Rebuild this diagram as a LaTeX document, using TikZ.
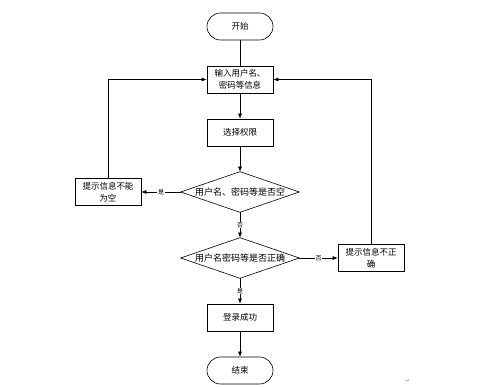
\documentclass[tikz,border=0pt]{standalone}
\usepackage{fontspec}
\setmainfont{Noto Sans CJK SC}
\newfontfamily\markfont{DejaVu Sans}
\usetikzlibrary{positioning,arrows.meta}

\begin{document}
\begin{tikzpicture}[
        node distance=25.4pt,
        >={Latex[length=5pt,width=4pt]},
        line width=0.6pt,
        proc/.style={
            draw,
            minimum width=66pt,
            minimum height=27pt,
            inner sep=1pt,
            align=center,
            font=\fontsize{8.5}{12}\selectfont
        },
        term/.style={
            proc,
            rounded corners=13.5pt
        },
        decision/.style={
            minimum width=118pt,
            minimum height=40pt,
            inner sep=0pt,
            font=\fontsize{9}{11}\selectfont
        },
        tag/.style={
            fill=white,
            inner sep=0.8pt,
            font=\fontsize{6}{7}\selectfont
        }
    ]
        \useasboundingbox (0,0) rectangle (499pt,-387pt);

        \node[term] (start) at (240pt,-26.5pt) {开始};
        \node[proc, below=of start] (input) {输入用户名、\\密码等信息};
        \node[proc, below=of input] (role) {选择权限};
        \node[decision, below=of role] (empty) {用户名、密码等是否空};
        \node[decision, below=of empty] (check) {用户名密码等是否正确};
        \node[proc, below=of check] (login) {登录成功};
        \node[term, below=of login] (stop) {结束};
        \node[proc, left=39.4pt of empty] (warnempty) {提示信息不能\\为空};
        \node[proc, right=38.4pt of check] (warnwrong) {提示信息不正\\确};

        % diamonds
        \draw (empty.north) -- (empty.east) -- (empty.south) -- (empty.west) -- cycle;
        \draw (check.north) -- (check.east) -- (check.south) -- (check.west) -- cycle;

        \draw (start) -- (input);
        \draw[->] (input) -- (role);
        \draw[->] (role) -- (empty.north);
        \draw[->] (empty.west) -- node[tag]{是} (warnempty);
        \draw[->] (empty.south) -- node[tag]{否} (check.north);
        \draw[->] (check.east) -- node[tag]{否} (warnwrong);
        \draw[->] (check.south) -- node[tag]{是} (login);
        \draw[->] (login) -- (stop);
        \draw[->] (warnempty.north) |- (input.west);
        \draw[->] (warnwrong.north) |- (input.east);

        \node[text=gray, font=\markfont\fontsize{5}{5}\selectfont] (para) at (408pt,-381pt) {↵};
    \end{tikzpicture}
\end{document}
